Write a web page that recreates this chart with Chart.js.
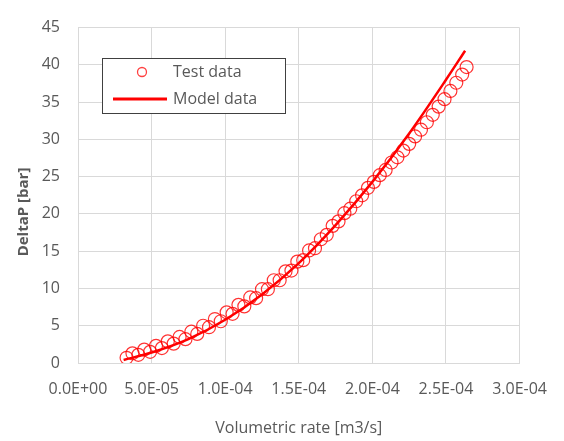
<!DOCTYPE html>
<html>
<head>
<meta charset="utf-8">
<script src="https://cdn.jsdelivr.net/npm/chart.js@4"></script>
<style>
    body { margin: 0; background: #fff; }
    canvas { display: block; }
</style>
</head>
<body>
<canvas id="myChart" width="564" height="441"></canvas>
<script>
// Test data (volumetric rate in m3/s, DeltaP in bar)
const testRate = [
    3.3e-5, 3.7e-5, 4.1e-5, 4.5e-5, 4.9e-5, 5.3e-5, 5.7e-5, 6.1e-5, 6.5e-5, 6.9e-5,
    7.3e-5, 7.7e-5, 8.1e-5, 8.5e-5, 8.9e-5, 9.3e-5, 9.7e-5, 1.01e-4, 1.05e-4, 1.09e-4,
    1.13e-4, 1.17e-4, 1.21e-4, 1.25e-4, 1.29e-4, 1.33e-4, 1.37e-4, 1.41e-4, 1.45e-4, 1.49e-4,
    1.53e-4, 1.57e-4, 1.61e-4, 1.65e-4, 1.69e-4, 1.73e-4, 1.77e-4, 1.81e-4, 1.85e-4, 1.89e-4,
    1.93e-4, 1.97e-4, 2.01e-4, 2.05e-4, 2.09e-4, 2.13e-4, 2.17e-4, 2.21e-4, 2.25e-4, 2.29e-4,
    2.33e-4, 2.37e-4, 2.41e-4, 2.45e-4, 2.49e-4, 2.53e-4, 2.57e-4, 2.61e-4, 2.64e-4
];
const testDeltaP = [
    0.7, 1.3, 1.1, 1.8, 1.5, 2.3, 2.0, 2.9, 2.6, 3.5,
    3.2, 4.2, 3.9, 5.0, 4.8, 5.9, 5.6, 6.8, 6.6, 7.8,
    7.6, 8.8, 8.7, 9.9, 9.9, 11.1, 11.1, 12.3, 12.4, 13.6,
    13.8, 15.1, 15.4, 16.6, 17.2, 18.4, 19.0, 20.1, 20.7, 21.7,
    22.5, 23.5, 24.3, 25.2, 25.9, 26.9, 27.6, 28.5, 29.4, 30.4,
    31.3, 32.3, 33.3, 34.4, 35.4, 36.5, 37.6, 38.7, 39.7
];

// Model curve
const modelRate = [3.1e-5, 5.0e-5, 7.5e-5, 1.0e-4, 1.25e-4, 1.5e-4, 1.75e-4, 2.0e-4, 2.25e-4, 2.5e-4, 2.63e-4];
const modelDeltaP = [0.4, 1.4, 3.2, 5.8, 9.2, 13.4, 18.5, 24.3, 30.8, 38.0, 41.9];

// Axis ticks
const xTickLabels = ['0.0E+00', '5.0E-05', '1.0E-04', '1.5E-04', '2.0E-04', '2.5E-04', '3.0E-04'];
const yTicks = [0, 5, 10, 15, 20, 25, 30, 35, 40, 45];

const labelColor = '#595959';
const gridColor = '#d9d9d9';
const fontFamily = '"Open Sans", "Liberation Sans", sans-serif';

// Legend box drawn inside the plot, Excel style
const boxLegend = {
    id: 'boxLegend',
    afterDraw(chart) {
        const ctx = chart.ctx;
        const sets = chart.data.datasets;
        ctx.save();
        ctx.fillStyle = '#fff';
        ctx.fillRect(102.5, 58.5, 183, 55);
        ctx.strokeStyle = '#404040';
        ctx.lineWidth = 1;
        ctx.strokeRect(102.5, 58.5, 183, 55);

        ctx.strokeStyle = 'rgba(255, 0, 0, 0.75)';
        ctx.lineWidth = 1.3;
        ctx.beginPath();
        ctx.arc(142, 72, 4.5, 0, Math.PI * 2);
        ctx.stroke();

        ctx.strokeStyle = '#ff0000';
        ctx.lineWidth = 3;
        ctx.beginPath();
        ctx.moveTo(113, 99);
        ctx.lineTo(167, 99);
        ctx.stroke();

        ctx.fillStyle = labelColor;
        ctx.font = '16px ' + fontFamily;
        ctx.textBaseline = 'middle';
        ctx.textAlign = 'left';
        ctx.fillText(sets[1].label, 173, 72);
        ctx.fillText(sets[0].label, 173, 99);

        // y axis title
        ctx.translate(24, 212);
        ctx.rotate(-Math.PI / 2);
        ctx.textAlign = 'center';
        ctx.font = 'bold 15px ' + fontFamily;
        ctx.fillText('DeltaP [bar]', 0, 0);
        ctx.restore();
    }
};

const ctx = document.getElementById('myChart').getContext('2d');
new Chart(ctx, {
    type: 'scatter',
    data: {
        datasets: [
            {
                label: 'Model data',
                data: modelRate.map((x, i) => ({x: x, y: modelDeltaP[i]})),
                showLine: true,
                borderColor: '#ff0000',
                borderWidth: 2.5,
                pointRadius: 0,
                cubicInterpolationMode: 'monotone',
                order: 0
            },
            {
                label: 'Test data',
                data: testRate.map((x, i) => ({x: x, y: testDeltaP[i]})),
                showLine: false,
                borderColor: 'rgba(255, 0, 0, 0.8)',
                backgroundColor: 'rgba(0, 0, 0, 0)',
                pointRadius: 6.5,
                pointBorderWidth: 1.2,
                order: 1
            }
        ]
    },
    options: {
        responsive: false,
        animation: false,
        layout: {padding: {left: 0, right: 39, top: 14, bottom: 0}},
        plugins: {
            legend: {display: false},
            tooltip: {enabled: false}
        },
        scales: {
            x: {
                type: 'linear',
                min: 0,
                max: 3e-4,
                afterFit: (scale) => { scale.height = 78; },
                afterBuildTicks: (scale) => {
                    scale.ticks = xTickLabels.map((t, i) => ({value: i * 5e-5}));
                },
                ticks: {
                    autoSkip: false,
                    maxRotation: 0,
                    padding: 17,
                    color: labelColor,
                    font: {family: fontFamily, size: 16},
                    callback: (value, index) => xTickLabels[index]
                },
                grid: {color: gridColor, drawTicks: false},
                border: {color: gridColor},
                title: {
                    display: true,
                    text: 'Volumetric rate [m3/s]',
                    color: labelColor,
                    font: {family: fontFamily, size: 16},
                    padding: {top: 0, bottom: 3}
                }
            },
            y: {
                type: 'linear',
                min: 0,
                max: 45,
                afterFit: (scale) => { scale.width = 78; },
                afterBuildTicks: (scale) => {
                    scale.ticks = yTicks.map(v => ({value: v}));
                },
                ticks: {
                    padding: 18,
                    color: labelColor,
                    font: {family: fontFamily, size: 16}
                },
                grid: {color: gridColor, drawTicks: false},
                border: {color: gridColor}
            }
        }
    },
    plugins: [boxLegend]
});
</script>
</body>
</html>
